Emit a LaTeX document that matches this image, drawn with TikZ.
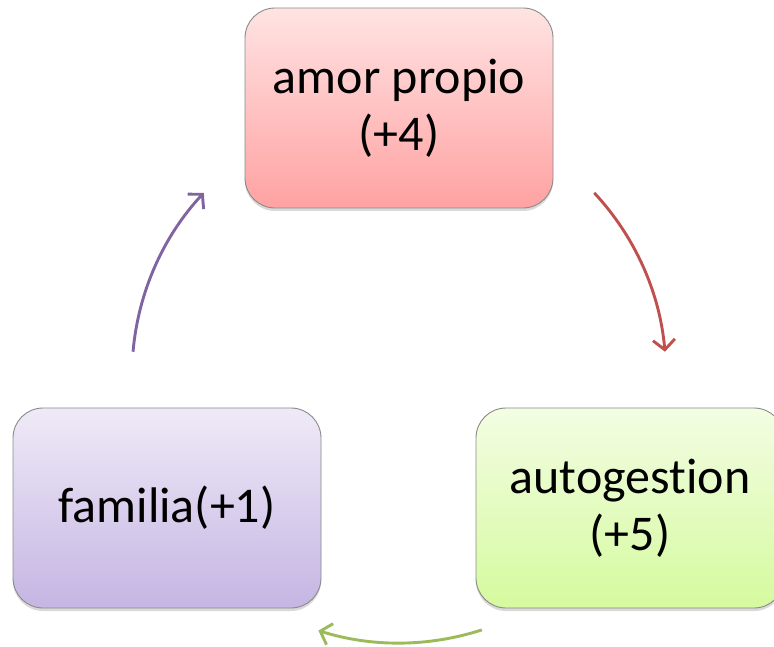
\documentclass[tikz,border=0pt]{standalone}
\usepackage{fontspec}
\setmainfont[Ligatures=NoCommon]{Carlito}
\usetikzlibrary{arrows.meta,shadows}
\definecolor{redtop}{HTML}{FFE3E3}
\definecolor{redbot}{HTML}{FFA2A2}
\definecolor{purtop}{HTML}{EFEAF7}
\definecolor{purbot}{HTML}{C5B5E3}
\definecolor{gretop}{HTML}{F3FDE3}
\definecolor{grebot}{HTML}{D5FA9E}
\definecolor{redline}{HTML}{C0504D}
\definecolor{greline}{HTML}{9BBB59}
\definecolor{purline}{HTML}{8064A2}
\definecolor{boxborder}{HTML}{8A8A8A}
\tikzset{
  cyclebox/.style={draw=boxborder, line width=0.9pt, rounded corners=30pt,
    minimum width=308pt, minimum height=200pt, align=center,
    font=\fontsize{50}{57}\selectfont, text=black,
    drop shadow={opacity=0.3, shadow xshift=0pt, shadow yshift=-3pt}},
  cyclearrow/.style={line width=2.9pt, -{Straight Barb[length=10pt,width=22pt,line width=2.9pt]}}
}
\begin{document}
\begin{tikzpicture}[x=1pt,y=1pt]
\useasboundingbox (0,0) rectangle (774,646);
\node[cyclebox, top color=redtop, bottom color=redbot] (amor) at (399,538) {amor propio\\(+4)};
\node[cyclebox, top color=purtop, bottom color=purbot] (fam) at (167,138) {familia(+1)};
\node[cyclebox, top color=gretop, bottom color=grebot] (auto) at (630,138) {autogestion\\(+5)};
\coordinate (c) at (399,271);
\draw[cyclearrow, draw=redline] ([shift={(43:267)}]c) arc[start angle=43, end angle=5, radius=267];
\draw[cyclearrow, draw=greline] ([shift={(-72:268)}]c) arc[start angle=-72, end angle=-107.5, radius=268];
\draw[cyclearrow, draw=purline] ([shift={(175:267)}]c) arc[start angle=175, end angle=137, radius=267];
\end{tikzpicture}
\end{document}
